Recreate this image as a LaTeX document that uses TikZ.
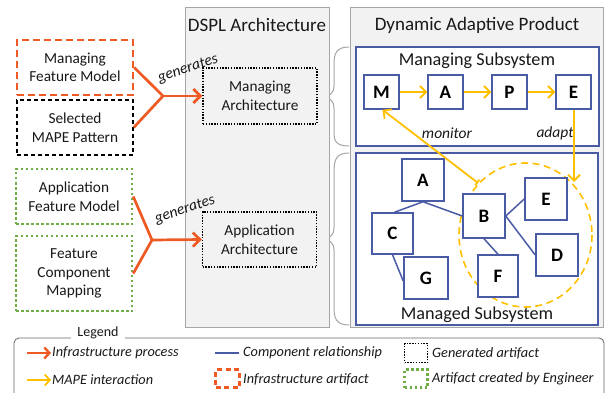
\documentclass[tikz,border=0pt]{standalone}
\usepackage{fontspec}
\setmainfont{Carlito}
\usetikzlibrary{arrows.meta}
\definecolor{infraorange}{HTML}{EE5A24}
\definecolor{mapeyellow}{HTML}{FFC000}
\definecolor{compblue}{HTML}{4A5BA5}
\definecolor{enggreen}{HTML}{70AD47}
\definecolor{panelgray}{HTML}{F2F2F2}
\definecolor{paneledge}{HTML}{A6A6A6}
\begin{document}
\begin{tikzpicture}[x=1pt,y=-1pt,
  every node/.style={font=\fontsize{15.3}{18.5}\selectfont, align=center, inner sep=0pt, text=black!90},
  artifact/.style={minimum width=116pt, minimum height=55pt},
  infrabox/.style={artifact, draw=infraorange, line width=2.5pt, dash pattern=on 7pt off 4pt},
  selbox/.style={artifact, draw=black, line width=1.5pt, dash pattern=on 4pt off 3pt},
  engbox/.style={artifact, draw=enggreen, line width=2.5pt, dash pattern=on 2.5pt off 2.5pt},
  genbox/.style={draw=black, line width=1.4pt, dash pattern=on 1.4pt off 1.4pt, minimum width=114pt, minimum height=56pt},
  panel/.style={draw=paneledge, fill=panelgray, line width=0.8pt},
  subsys/.style={draw=compblue, fill=white, line width=1.5pt},
  mapebox/.style={draw=compblue, fill=white, line width=1.5pt, minimum width=35pt, minimum height=34pt, font=\fontsize{19}{20}\selectfont\bfseries, text=black},
  comp/.style={draw=compblue, fill=white, line width=1.5pt, minimum width=42pt, minimum height=42pt, font=\fontsize{19}{20}\selectfont\bfseries, text=black},
  rel/.style={draw=compblue, line width=1.5pt},
  proc/.style={draw=infraorange, line width=2.7pt},
  procarrow/.style={proc, -{Straight Barb[length=7pt,width=14pt]}},
  mape/.style={draw=mapeyellow, line width=1.8pt, -{Straight Barb[length=6pt,width=12pt]}},
  bracestroke/.style={draw=paneledge, line width=1pt},
  note/.style={font=\fontsize{15.5}{17}\selectfont\itshape},
  legendtext/.style={font=\fontsize{14.3}{16}\selectfont\itshape, anchor=west},
  titletext/.style={font=\fontsize{19}{22}\selectfont},
  subtitle/.style={font=\fontsize{18.2}{20}\selectfont},
]
\useasboundingbox (0,0) rectangle (605,393);
\fill[white] (0,0) rectangle (605,393);

% ---- braces linking architecture to product ----
\draw[bracestroke] (349,47) .. controls (336,47) and (334,54) .. (334,64) -- (334,86)
  .. controls (334,93) and (330,97) .. (321,97)
  .. controls (330,97) and (334,101) .. (334,108) -- (334,132)
  .. controls (334,141) and (336,146) .. (349,146);
\draw[bracestroke] (349,153) .. controls (336,153) and (334,160) .. (334,172) -- (334,228)
  .. controls (334,235) and (330,239) .. (321,239)
  .. controls (330,239) and (334,243) .. (334,250) -- (334,308)
  .. controls (334,318) and (336,325) .. (349,325);

% ---- panels ----
\node[panel, minimum width=144pt, minimum height=320pt] (dspl) at (257,167) {};
\node[titletext] (dspltitle) at (257,25) {DSPL Architecture};
\node[panel, minimum width=253pt, minimum height=320pt] (dap) at (476.5,167) {};
\node[titletext] (daptitle) at (477,25) {Dynamic Adaptive Product};

% ---- input artifacts ----
\node[infrabox] (mfm) at (75,67.5) {Managing\\Feature Model};
\node[selbox] (smp) at (75,127.5) {Selected\\MAPE Pattern};
\node[engbox] (afm) at (74,196.5) {Application\\Feature Model};
\node[engbox, minimum height=75pt] (fcm) at (74,273.5) {Feature\\Component\\Mapping};

% ---- generated architectures ----
\node[genbox] (marc) at (260,96) {Managing\\Architecture};
\node[genbox, minimum height=55pt] (aarc) at (259.5,239.5) {Application\\Architecture};

% ---- generation processes ----
\coordinate (j1) at (163,96);
\coordinate (j2) at (152,240);
\draw[proc, line join=round] (mfm.east) -- (j1) -- (smp.east);
\draw[procarrow] (j1) -- (marc.west);
\draw[proc, line join=round] (afm.east) -- (j2) -- (fcm.east);
\draw[procarrow] (j2) -- (aarc.west);
\node[note, rotate=19] (gen1) at (188,69) {generates};
\node[note, rotate=19] (gen2) at (185,210) {generates};

% ---- managing subsystem ----
\node[subsys, minimum width=243pt, minimum height=99pt] (mngsub) at (477.5,96.5) {};
\node[subtitle] (mngtitle) at (477,61) {Managing Subsystem};
\node[mapebox] (m) at (381.5,92) {M};
\node[mapebox] (a) at (445.5,92) {A};
\node[mapebox] (p) at (509.5,92) {P};
\node[mapebox] (e) at (573.5,92) {E};
\draw[mape] (m) -- (a);
\draw[mape] (a) -- (p);
\draw[mape] (p) -- (e);
\node[note] (monitorlbl) at (447,133) {monitor};
\node[note] (adaptlbl) at (555,133) {adapt};

% ---- managed subsystem ----
\node[subsys, minimum width=242pt, minimum height=172pt] (mgdsub) at (477,239) {};
\node[subtitle] (mgdtitle) at (477,315) {Managed Subsystem};
\draw[mapeyellow, line width=1.6pt, dash pattern=on 7pt off 4.5pt] (525.5,235) ellipse [x radius=66.5, y radius=72];

\node[comp] (ca) at (423,180) {A};
\node[comp, minimum width=41pt, minimum height=41pt] (cc) at (392.5,233.5) {C};
\node[comp, minimum width=44pt] (cg) at (426,278) {G};
\node[comp, minimum height=44pt] (cb) at (484,216) {B};
\node[comp] (ce) at (546,199) {E};
\node[comp] (cd) at (557,255) {D};
\node[comp, minimum width=40pt] (cf) at (498,276) {F};
\draw[rel] (ca.south) -- ([xshift=2pt]cc.north);
\draw[rel] (ca.south) -- (cb.west);
\draw[rel] (cc.south) -- ([yshift=-3pt]cg.west);
\draw[rel] (cb.east) -- (ce.west);
\draw[rel] (cb.east) -- (cd.west);
\draw[rel] (cb.south) -- (cf.north);

% ---- MAPE loop to the adaptable part ----
\coordinate (monstart) at (478,183);
\coordinate (adaptend) at (574,182);
\draw[mape, {Bar[width=7pt]}-{Straight Barb[length=6pt,width=12pt]}] (monstart) -- ([xshift=1pt]m.south);
\draw[mape] (e.south -| adaptend) -- (adaptend);

% ---- legend ----
\draw[draw=black!60, line width=0.8pt, rounded corners=5pt] (14,400) -- (14,338) -- (604,338) -- (604,400);
\node[fill=white, inner xsep=6pt, inner ysep=1pt, font=\fontsize{14}{16}\selectfont] (legendlbl) at (98,333) {Legend};

\coordinate (l1s) at (27,353); \coordinate (l1e) at (51,353);
\draw[proc, line width=2.4pt, -{Straight Barb[length=5pt,width=11pt]}] (l1s) -- (l1e);
\node[legendtext] (lt1) at (52,353) {Infrastructure process};
\coordinate (l2s) at (27,380); \coordinate (l2e) at (51,380);
\draw[mape, -{Straight Barb[length=5pt,width=11pt]}] (l2s) -- (l2e);
\node[legendtext] (lt2) at (52,380) {MAPE interaction};

\coordinate (l3s) at (215,353); \coordinate (l3e) at (239,353);
\draw[rel] (l3s) -- (l3e);
\node[legendtext] (lt3) at (243,353) {Component relationship};
\node[infrabox, minimum width=24pt, minimum height=18pt, line width=2.2pt, dash pattern=on 5pt off 3.5pt] (lb4) at (227.5,378.5) {};
\node[legendtext] (lt4) at (243,379) {Infrastructure artifact};

\node[genbox, minimum width=23pt, minimum height=19pt] (lb5) at (416,353) {};
\node[legendtext] (lt5) at (432,353) {Generated artifact};
\node[engbox, minimum width=23pt, minimum height=18pt, line width=2.2pt] (lb6) at (416,378.5) {};
\node[legendtext] (lt6) at (432,379) {Artifact created by Engineer};
\end{tikzpicture}
\end{document}
